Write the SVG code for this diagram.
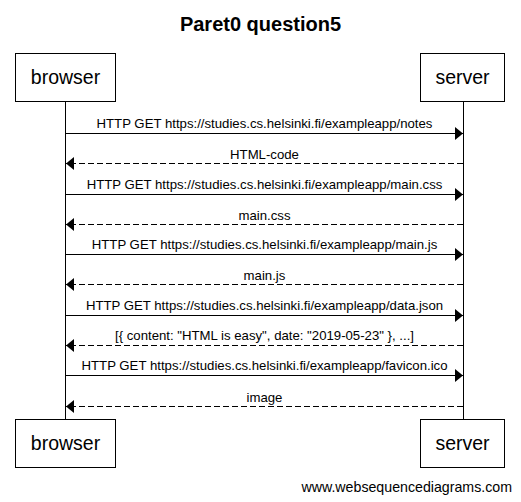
<svg xmlns="http://www.w3.org/2000/svg" width="521" height="502" viewBox="0 0 521 502">
<style>
text{font-family:"Liberation Sans",Arial,sans-serif;fill:#000}
.title{font-size:20px;font-weight:bold;text-anchor:middle}
.actor rect{fill:#fff;stroke:#000;stroke-width:1}
.actor text{font-size:19.5px;text-anchor:middle}
.life{stroke:#000;stroke-width:1}
.msg{stroke:#000;stroke-width:1;fill:none}
.ret{stroke-dasharray:6,3}
.lbl{font-size:13.2px;text-anchor:middle}
.wm{font-size:14.2px;text-anchor:end}
</style>
<defs>
<marker id="ah" markerUnits="userSpaceOnUse" viewBox="0 0 8 13" refX="8" refY="6.5" markerWidth="8" markerHeight="13" orient="auto">
<path d="M0,0 L8,6.5 L0,13 Z" fill="#000"/>
</marker>
</defs>
<rect width="521" height="502" fill="#fff"/>
<text class="title" x="260.5" y="30.5">Paret0 question5</text>
<g id="lifelines">
<line class="life" x1="65.5" y1="102" x2="65.5" y2="419"/>
<line class="life" x1="463.5" y1="102" x2="463.5" y2="419"/>
</g>
<g id="browser-top" class="actor"><rect x="15.5" y="53.5" width="100" height="48"/><text x="65.5" y="84">browser</text></g>
<g id="server-top" class="actor"><rect x="420.5" y="53.5" width="84" height="48"/><text x="462.5" y="84">server</text></g>
<g id="browser-bottom" class="actor"><rect x="15.5" y="419.5" width="100" height="48"/><text x="65.5" y="450">browser</text></g>
<g id="server-bottom" class="actor"><rect x="420.5" y="419.5" width="84" height="48"/><text x="462.5" y="450">server</text></g>
<g id="connectors">
<line class="msg" x1="66" y1="133.5" x2="463" y2="133.5" marker-end="url(#ah)"/>
<text class="lbl" x="264.5" y="128">HTTP GET https://studies.cs.helsinki.fi/exampleapp/notes</text>
<line class="msg ret" x1="463" y1="163.5" x2="66" y2="163.5" marker-end="url(#ah)"/>
<text class="lbl" x="264.5" y="158.5">HTML-code</text>
<line class="msg" x1="66" y1="194.5" x2="463" y2="194.5" marker-end="url(#ah)"/>
<text class="lbl" x="264.5" y="189">HTTP GET https://studies.cs.helsinki.fi/exampleapp/main.css</text>
<line class="msg ret" x1="463" y1="224.5" x2="66" y2="224.5" marker-end="url(#ah)"/>
<text class="lbl" x="264.5" y="219.5">main.css</text>
<line class="msg" x1="66" y1="254.5" x2="463" y2="254.5" marker-end="url(#ah)"/>
<text class="lbl" x="264.5" y="249">HTTP GET https://studies.cs.helsinki.fi/exampleapp/main.js</text>
<line class="msg ret" x1="463" y1="284.5" x2="66" y2="284.5" marker-end="url(#ah)"/>
<text class="lbl" x="264.5" y="279.5">main.js</text>
<line class="msg" x1="66" y1="315.5" x2="463" y2="315.5" marker-end="url(#ah)"/>
<text class="lbl" x="264.5" y="310">HTTP GET https://studies.cs.helsinki.fi/exampleapp/data.json</text>
<line class="msg ret" x1="463" y1="345.5" x2="66" y2="345.5" marker-end="url(#ah)"/>
<text class="lbl" x="264.5" y="340">[{ content: "HTML is easy", date: "2019-05-23" }, ...]</text>
<line class="msg" x1="66" y1="375.5" x2="463" y2="375.5" marker-end="url(#ah)"/>
<text class="lbl" x="264.5" y="370">HTTP GET https://studies.cs.helsinki.fi/exampleapp/favicon.ico</text>
<line class="msg ret" x1="463" y1="406.5" x2="66" y2="406.5" marker-end="url(#ah)"/>
<text class="lbl" x="264.5" y="401.5">image</text>
</g>
<text class="wm" x="512" y="492">www.websequencediagrams.com</text>
</svg>
